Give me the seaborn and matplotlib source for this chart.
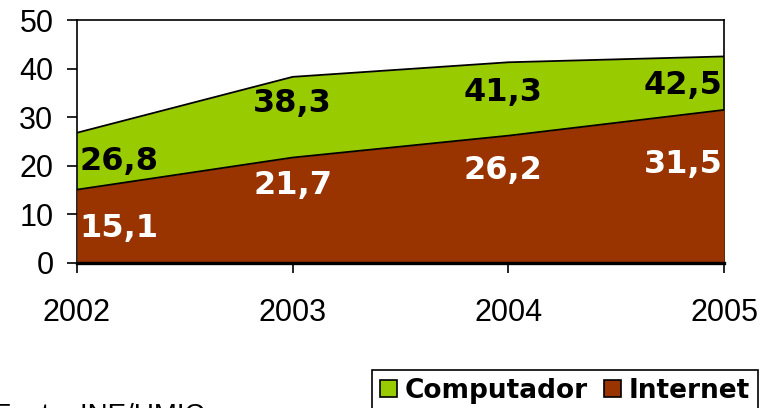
import matplotlib
matplotlib.use("Agg")
import matplotlib.pyplot as plt
import seaborn as sns
import pandas as pd
from matplotlib.patches import Patch

# Data
years = [2002, 2003, 2004, 2005]
computador = [26.8, 38.3, 41.3, 42.5]
internet = [15.1, 21.7, 26.2, 31.5]
series_names = ["Computador", "Internet"]
source_note = "Fonte: INE/UMIC"

GREEN = "#99CC00"
BROWN = "#993300"

df = pd.DataFrame({"Ano": years, "Computador": computador, "Internet": internet})

sns.set_theme(style="white")
plt.rcParams["font.family"] = ["Liberation Sans", "DejaVu Sans"]
plt.rcParams["text.color"] = "black"

fig = plt.figure(figsize=(7.65, 4.08), dpi=100)
ax = fig.add_axes([77 / 765, 1 - 263 / 408, (724 - 77) / 765, (263 - 20) / 408])

# Overlapping areas: computador behind, internet in front
ax.fill_between(df["Ano"], 0, df["Computador"], color=GREEN, lw=0, zorder=1)
sns.lineplot(data=df, x="Ano", y="Computador", color="black", lw=1.3, ax=ax, zorder=2)
ax.fill_between(df["Ano"], 0, df["Internet"], color=BROWN, lw=0, zorder=3)
sns.lineplot(data=df, x="Ano", y="Internet", color="black", lw=1.3, ax=ax, zorder=4)

ax.set_xlim(2002, 2005)
ax.set_ylim(0, 50)
ax.set_xticks(years)
ax.set_xticklabels([str(y) for y in years])
ax.set_yticks(range(0, 51, 10))
ax.set_xlabel("")
ax.set_ylabel("")

for side in ["left", "top", "right"]:
    ax.spines[side].set_color("black")
    ax.spines[side].set_linewidth(1.2)
ax.spines["bottom"].set_color("black")
ax.spines["bottom"].set_linewidth(2.4)
ax.spines["bottom"].set_zorder(6)

ax.tick_params(axis="x", direction="out", length=7, width=1.2, color="black",
               pad=18, labelsize=22, labelcolor="black", bottom=True)
ax.tick_params(axis="y", direction="out", length=7, width=1.2, color="black",
               pad=10, labelsize=22, labelcolor="black", left=True)

# Value labels
has = ["left", "center", "center", "right"]
xoff = [2, 0, -4, -1]
comp_dy = [-6.0, -5.4, -6.3, -5.9]
int_dy = [-7.9, -5.7, -7.1, -11.3]
lbl_font = dict(family="DejaVu Sans", fontweight="bold", fontsize=23)
for i, yr in enumerate(years):
    ax.annotate(f"{computador[i]:.1f}".replace(".", ","),
                xy=(yr, computador[i] + comp_dy[i]), xytext=(xoff[i], 0),
                textcoords="offset points", ha=has[i], va="center",
                color="black", zorder=7, **lbl_font)
    ax.annotate(f"{internet[i]:.1f}".replace(".", ","),
                xy=(yr, internet[i] + int_dy[i]), xytext=(xoff[i], 0),
                textcoords="offset points", ha=has[i], va="center",
                color="white", zorder=7, **lbl_font)

# Legend
handles = [Patch(facecolor=GREEN, edgecolor="black", lw=1.2),
           Patch(facecolor=BROWN, edgecolor="black", lw=1.2)]
leg = fig.legend(handles, series_names, loc="upper left",
                 bbox_to_anchor=(372 / 765, 1 - 370 / 408), ncol=2,
                 frameon=True, fancybox=False, framealpha=1,
                 prop=dict(family="DejaVu Sans", weight="bold", size=19),
                 handlelength=0.65, handleheight=0.65, handletextpad=0.3,
                 columnspacing=0.6, borderpad=0.3, borderaxespad=0)
leg.get_frame().set_edgecolor("black")
leg.get_frame().set_linewidth(1.2)
for t in leg.get_texts():
    t.set_color("black")

fig.text(205 / 765, (408 - 423) / 408, source_note, ha="right", va="baseline",
         fontsize=20, color="black")

fig.savefig("out.png", dpi=100)
